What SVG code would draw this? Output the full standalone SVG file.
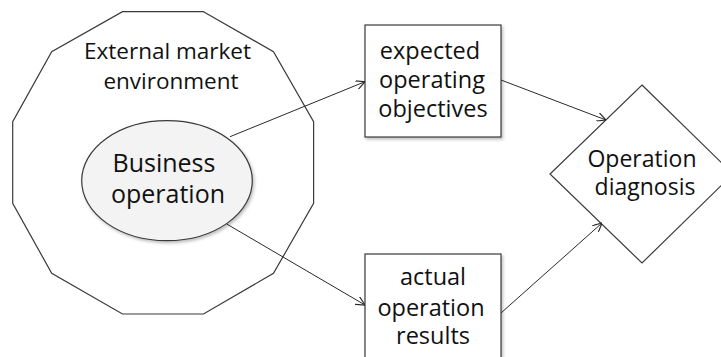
<svg xmlns="http://www.w3.org/2000/svg" width="721" height="357" viewBox="0 0 721 357">
<defs>
<style>
.shape{fill:#ffffff;stroke:#3a3a3a;stroke-width:1.2}
.ell{fill:#f3f3f3;stroke:#3a3a3a;stroke-width:1.2}
.t{font-family:"Open Sans","Liberation Sans",sans-serif;fill:#111;text-anchor:middle}
.conn{stroke:#2a2a2a;stroke-width:1;fill:none;marker-end:url(#arr)}
</style>
<marker id="arr" viewBox="0 0 10 10" refX="10" refY="5" markerWidth="9" markerHeight="9" markerUnits="userSpaceOnUse" orient="auto">
<path d="M0,0 L10,5 L0,10" fill="none" stroke="#2a2a2a" stroke-width="1.3"/>
</marker>
<filter id="sh" x="-10%" y="-10%" width="130%" height="130%">
<feDropShadow dx="1.5" dy="2" stdDeviation="1.5" flood-color="#000" flood-opacity="0.25"/>
</filter>
</defs>
<rect width="721" height="357" fill="#ffffff"/>
<g id="market">
<polygon class="shape" points="203.5,11.7 273.5,51.7 313.6,121.7 313.6,203.3 273.5,273.3 203.5,314 122.5,314 51.7,273.3 12.7,203.3 12.7,121.7 51.7,51.7 122.5,11.7"/>
<text class="t" x="167.5" y="59" font-size="22.5">External market</text>
<text class="t" x="171" y="89" font-size="22.5">environment</text>
</g>
<g id="business">
<ellipse class="ell" cx="167" cy="180.7" rx="85.3" ry="60" filter="url(#sh)"/>
<text class="t" x="164" y="171.5" font-size="25">Business</text>
<text class="t" x="168" y="203" font-size="25">operation</text>
</g>
<g id="expected">
<rect class="shape" x="365" y="25" width="136" height="112" filter="url(#sh)"/>
<text class="t" x="430" y="58.5" font-size="23.5">expected</text>
<text class="t" x="432" y="87.5" font-size="23.5">operating</text>
<text class="t" x="433" y="116.5" font-size="23.5">objectives</text>
</g>
<g id="actual">
<rect class="shape" x="365" y="254" width="136" height="112" filter="url(#sh)"/>
<text class="t" x="433" y="284.5" font-size="23.5">actual</text>
<text class="t" x="431" y="315.5" font-size="23.5">operation</text>
<text class="t" x="433" y="344" font-size="23.5">results</text>
</g>
<g id="diagnosis">
<polygon class="shape" points="642,85 733,174 642,263 550,174"/>
<text class="t" x="642" y="167" font-size="23">Operation</text>
<text class="t" x="645" y="195" font-size="23">diagnosis</text>
</g>
<g id="connectors">
<line class="conn" x1="230" y1="136.7" x2="365" y2="81.7"/>
<line class="conn" x1="226.7" y1="224" x2="365" y2="305"/>
<line class="conn" x1="501" y1="80" x2="606" y2="120"/>
<line class="conn" x1="501" y1="313" x2="602" y2="223"/>
</g>
</svg>
